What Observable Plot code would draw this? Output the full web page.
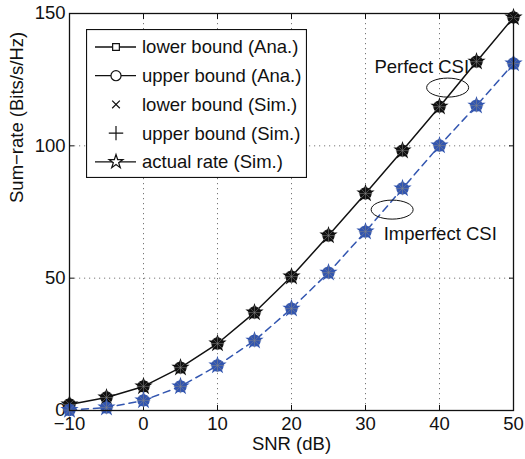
<!DOCTYPE html>
<html>
<head>
<meta charset="utf-8">
<script src="https://cdn.jsdelivr.net/npm/d3@7"></script>
<script src="https://cdn.jsdelivr.net/npm/@observablehq/plot@0.6"></script>
<style>
  html, body { margin: 0; padding: 0; background: #fff; }
  #wrap { position: relative; width: 525px; height: 459px; }
  #legend { position: absolute; left: 86px; top: 29px; }
</style>
</head>
<body>
<div id="wrap"></div>
<script>
// ---- data ----
const snr = [-10, -5, 0, 5, 10, 15, 20, 25, 30, 35, 40, 45, 50];
const perfectCSI = [2.3, 4.9, 9.1, 16.2, 25.3, 37.0, 50.6, 66.1, 82.0, 98.2, 114.8, 131.8, 148.5];
const imperfectCSI = [0.2, 1.1, 3.8, 9.1, 17.0, 26.4, 38.5, 52.1, 67.6, 83.9, 100.1, 115.2, 131.1];
const xTicks = [-10, 0, 10, 20, 30, 40, 50];
const yTicks = [0, 50, 100, 150];
const annotLabels = ["Perfect CSI", "Imperfect CSI"];
const annotTextX = [37.6, 40.1];
const annotTextY = [129.6, 66.5];
const annotEllipseX = [41.1, 33.6];
const annotEllipseY = [122.0, 75.9];
const legendLabels = ["lower bound (Ana.)", "upper bound (Ana.)", "lower bound (Sim.)", "upper bound (Sim.)", "actual rate (Sim.)"];
const xLabel = "SNR (dB)";
const yLabel = "Sum\u2212rate (Bits/s/Hz)";

const BLACK = "#111111";
const BLUE = "#3356b0";

const rows = [
  ...snr.map((x, i) => ({snr: x, rate: perfectCSI[i], csi: "Perfect"})),
  ...snr.map((x, i) => ({snr: x, rate: imperfectCSI[i], csi: "Imperfect"}))
];
const perfRows = rows.filter(d => d.csi === "Perfect");
const impRows = rows.filter(d => d.csi === "Imperfect");
const annots = annotLabels.map((t, i) => ({t, x: annotTextX[i], y: annotTextY[i], ex: annotEllipseX[i], ey: annotEllipseY[i]}));

const ellipse = {
  draw(ctx) {
    const rx = 21, ry = 9.5, k = 0.5523;
    ctx.moveTo(rx, 0);
    ctx.bezierCurveTo(rx, ry * k, rx * k, ry, 0, ry);
    ctx.bezierCurveTo(-rx * k, ry, -rx, ry * k, -rx, 0);
    ctx.bezierCurveTo(-rx, -ry * k, -rx * k, -ry, 0, -ry);
    ctx.bezierCurveTo(rx * k, -ry, rx, -ry * k, rx, 0);
    ctx.closePath();
  }
};

function blob(data, color) {
  return [
    Plot.dot(data, {x: "snr", y: "rate", symbol: "circle", r: 5.6, fill: color, fillOpacity: 0.9, stroke: color, strokeWidth: 1.2}),
    Plot.dot(data, {x: "snr", y: "rate", symbol: "square", r: 4.8, fill: color, stroke: color, strokeWidth: 1}),
    Plot.dot(data, {x: "snr", y: "rate", symbol: "star", r: 4.6, fill: color, stroke: color, strokeWidth: 1.2}),
    Plot.dot(data, {x: "snr", y: "rate", symbol: "times", r: 4.2, stroke: "#888", strokeOpacity: 0.5, strokeWidth: 1}),
    Plot.dot(data, {x: "snr", y: "rate", symbol: "plus", r: 4.5, stroke: "#888", strokeOpacity: 0.5, strokeWidth: 1})
  ];
}

const chart = Plot.plot({
  width: 525,
  height: 459,
  marginLeft: 69,
  marginRight: 12,
  marginTop: 13,
  marginBottom: 49,
  x: {domain: [-10, 50]},
  y: {domain: [0, 150]},
  style: {fontFamily: "'Liberation Sans', Arial, Helvetica, sans-serif", fontSize: "18.5px", color: "#111", background: "#fff"},
  marks: [
    Plot.ruleX(xTicks.slice(1, -1), {stroke: "#777", strokeDasharray: "1.2,3.8", strokeWidth: 1}),
    Plot.ruleY(yTicks.slice(1, -1), {stroke: "#777", strokeDasharray: "1.2,3.8", strokeWidth: 1}),
    Plot.axisX(xTicks, {tickSize: 0, tickPadding: 6, label: null}),
    Plot.axisX(xTicks, {tickSize: -5, tickFormat: () => "", label: null, stroke: "#111"}),
    Plot.axisX(xTicks, {anchor: "top", tickSize: -5, tickFormat: () => "", label: null, stroke: "#111"}),
    Plot.axisY(yTicks, {tickSize: 0, tickPadding: 4, label: null}),
    Plot.axisY(yTicks, {tickSize: -5, tickFormat: () => "", label: null, stroke: "#111"}),
    Plot.axisY(yTicks, {anchor: "right", tickSize: -5, tickFormat: () => "", label: null, stroke: "#111"}),
    Plot.text([xLabel], {frameAnchor: "bottom", dy: 34, lineAnchor: "middle", text: d => d}),
    Plot.text([yLabel], {frameAnchor: "left", dx: -52, dy: -9, rotate: -90, text: d => d}),
    Plot.line(perfRows, {x: "snr", y: "rate", stroke: BLACK, strokeWidth: 1.5}),
    Plot.line(impRows, {x: "snr", y: "rate", stroke: BLUE, strokeWidth: 1.5, strokeDasharray: "7,5"}),
    ...blob(perfRows, BLACK),
    ...blob(impRows, BLUE),
    Plot.dot(annots, {x: "ex", y: "ey", symbol: ellipse, stroke: "#111", strokeWidth: 1, fill: "none"}),
    Plot.text(annots, {x: "x", y: "y", text: "t", fill: "#111"}),
    Plot.frame({stroke: "#111", strokeWidth: 1.3})
  ]
});
document.getElementById("wrap").appendChild(chart);

// ---- legend (inside the axes, like the MATLAB figure) ----
const lw = 221, lh = 149, rowY0 = 18, rowStep = 28.7;
const legend = d3.select("#wrap").append("svg")
  .attr("id", "legend").attr("width", lw).attr("height", lh)
  .style("font-family", "'Liberation Sans', Arial, Helvetica, sans-serif")
  .style("font-size", "18.5px");
legend.append("rect").attr("x", 0.5).attr("y", 0.5).attr("width", lw - 1).attr("height", lh - 1)
  .attr("fill", "#fff").attr("stroke", "#111").attr("stroke-width", 1.2);
const symbolsForLegend = [
  {line: true, sym: d3.symbolSquare, size: 45},
  {line: true, sym: d3.symbolCircle, size: 80},
  {line: false, sym: d3.symbolTimes, size: 40},
  {line: false, sym: d3.symbolPlus, size: 70},
  {line: true, sym: d3.symbolStar, size: 60}
];
legendLabels.forEach((label, i) => {
  const y = rowY0 + i * rowStep;
  const g = legend.append("g");
  const s = symbolsForLegend[i];
  if (s.line) g.append("line").attr("x1", 9).attr("x2", 50).attr("y1", y).attr("y2", y).attr("stroke", "#111").attr("stroke-width", 1.3);
  g.append("path").attr("d", d3.symbol(s.sym, s.size)()).attr("transform", `translate(30,${y})`)
    .attr("fill", s.line ? "#fff" : "none").attr("stroke", "#111").attr("stroke-width", 1.2);
  g.append("text").attr("x", 56).attr("y", y).attr("dy", "0.35em").attr("fill", "#111").text(label);
});
</script>
</body>
</html>
